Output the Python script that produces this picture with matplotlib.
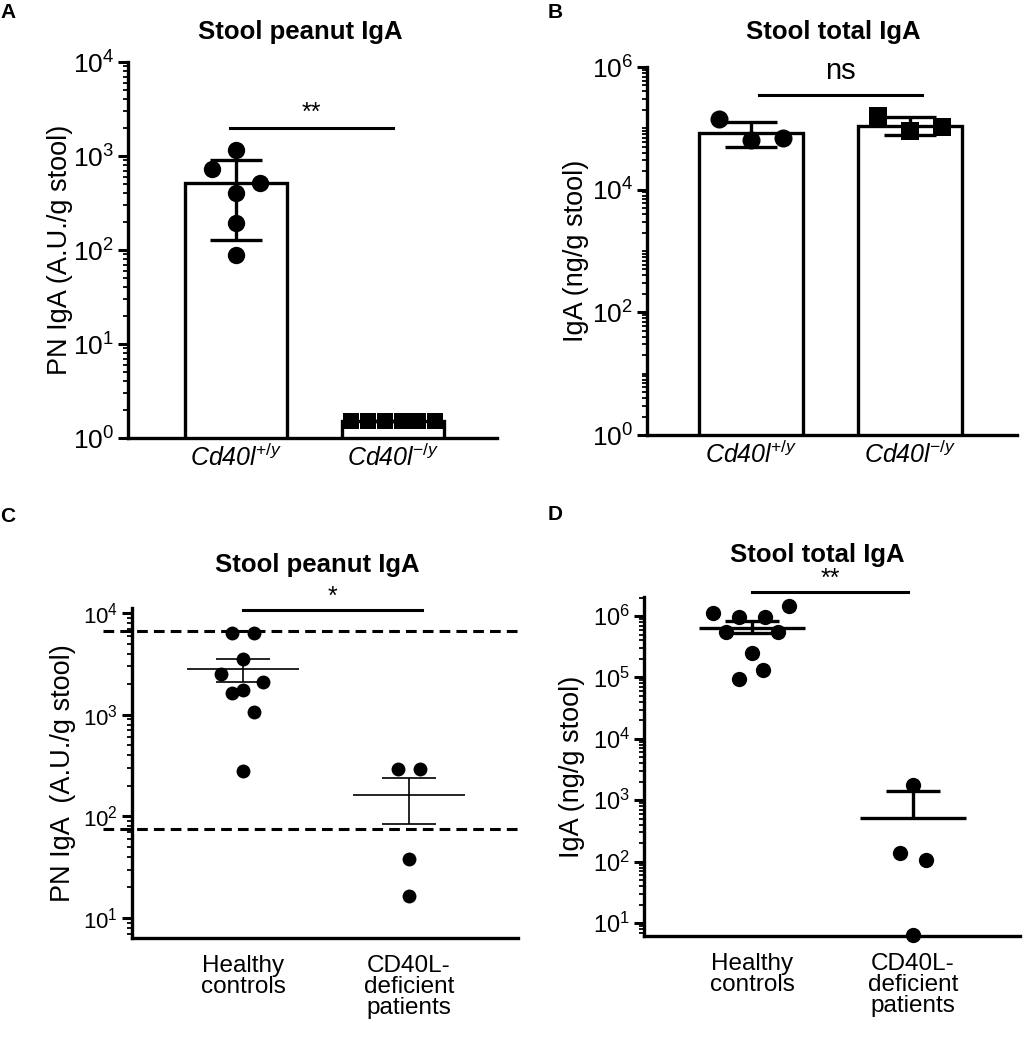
import matplotlib
matplotlib.use("Agg")
import matplotlib.pyplot as plt
from matplotlib.ticker import FixedLocator, LogLocator, LogFormatterSciNotation, NullFormatter
import numpy as np

plt.rcParams["font.family"] = ["Liberation Sans", "DejaVu Sans"]
plt.rcParams["mathtext.fontset"] = "custom"
plt.rcParams["mathtext.rm"] = "Liberation Sans"
plt.rcParams["mathtext.it"] = "Liberation Sans:italic"
plt.rcParams["mathtext.bf"] = "Liberation Sans:bold"

W, H = 1023, 1050

# ---- panel A: stool peanut IgA (mice) ----
mouse_labels = [r"Cd40l$^{\mathit{+/y}}$", r"Cd40l$^{\mathit{-/y}}$"]
a_wt = [1150, 730, 515, 405, 195, 89]
a_ko = [1.5, 1.5, 1.5, 1.5, 1.5, 1.5]
a_mean = [514, 1.5]
a_low = [128, 1.5]
a_high = [900, 1.5]

# ---- panel B: stool total IgA (mice) ----
b_wt = [142000, 65000, 70000]
b_ko = [160000, 90000, 105000]
b_mean = [85000, 110000]
b_low = [50000, 78000]
b_high = [127000, 155000]

# ---- panel C: stool peanut IgA (patients) ----
patient_labels = ["Healthy\ncontrols", "CD40L-\ndeficient\npatients"]
c_healthy = [6350, 6350, 3550, 2520, 2100, 1750, 1630, 1060, 280]
c_patients = [295, 295, 38, 16.5]
c_mean = [2830, 162]
c_low = [2100, 85]
c_high = [3550, 240]
c_limits = [6600, 76]

# ---- panel D: stool total IgA (patients) ----
d_healthy = [1.12e6, 9.6e5, 9.6e5, 1.45e6, 5.5e5, 5.5e5, 2.5e5, 1.3e5, 9.6e4]
d_patients = [1800, 140, 108, 6.3]
d_mean = [6.5e5, 510]
d_low = [5.3e5, 510]
d_high = [8.2e5, 1400]

# horizontal spread of the dots (layout only)
a_wt_dx = [0, -0.15, 0.15, 0, 0, 0]
a_ko_dx = [-0.27, -0.162, -0.054, 0.054, 0.162, 0.27]
b_dx = [-0.2, 0, 0.2]
c_healthy_dx = [-0.065, 0.065, 0, -0.13, 0.12, 0, -0.065, 0.065, 0]
c_patients_dx = [-0.065, 0.065, 0, 0]
d_healthy_dx = [-0.24, -0.08, 0.08, 0.23, -0.16, 0.16, 0, 0.07, -0.08]
d_patients_dx = [0, -0.08, 0.08, 0]


def fx(px):
    return px / W


def fy(py):
    return 1 - py / H


def make_axes(fig, left, right, top, bottom):
    return fig.add_axes([fx(left), fy(bottom), (right - left) / W, (bottom - top) / H])


def style(ax, majors, ylim, xlim, fs):
    ax.set_yscale("log")
    ax.set_ylim(*ylim)
    ax.set_xlim(*xlim)
    for s in ["top", "right"]:
        ax.spines[s].set_visible(False)
    for s in ["left", "bottom"]:
        ax.spines[s].set_linewidth(2.4)
    ax.yaxis.set_major_locator(FixedLocator(majors))
    ax.yaxis.set_major_formatter(LogFormatterSciNotation())
    ax.yaxis.set_minor_locator(LogLocator(base=10, subs=np.arange(1, 10), numticks=100))
    ax.yaxis.set_minor_formatter(NullFormatter())
    ax.tick_params(axis="y", which="major", length=7, width=2.2, labelsize=fs, pad=3)
    ax.tick_params(axis="y", which="minor", length=3.5, width=1.3)
    ax.tick_params(axis="x", length=0)


def sig_bar(ax, x0, x1, y, text, ty, fs):
    ax.plot([x0, x1], [y, y], color="black", lw=2.2, clip_on=False)
    ax.text((x0 + x1) / 2, ty, text, ha="center", va="center", fontsize=fs)


def bar_panel(ax, groups, means, lows, highs, markers, ms):
    x = np.arange(len(means))
    ax.bar(x, means, width=0.65, bottom=1e-3, color="white", edgecolor="black",
           linewidth=2.4, zorder=2)
    for i in range(len(means)):
        ax.vlines(x[i], lows[i], highs[i], color="black", lw=2.4, zorder=3)
        ax.hlines([lows[i], highs[i]], x[i] - 0.165, x[i] + 0.165, color="black", lw=2.4, zorder=3)
    for i, (vals, dx) in enumerate(groups):
        ax.scatter(x[i] + np.array(dx), vals, marker=markers[i], s=ms[i] ** 2,
                   color="black", zorder=4, clip_on=False, linewidths=0)


def dot_panel(ax, groups, means, lows, highs, ms, lw, mean_hw):
    x = np.arange(len(means))
    for i, (vals, dx) in enumerate(groups):
        ax.scatter(x[i] + np.array(dx), vals, marker="o", s=ms ** 2,
                   color="black", zorder=4, clip_on=False, linewidths=0)
    for i in range(len(means)):
        ax.hlines(means[i], x[i] - mean_hw, x[i] + mean_hw, color="black", lw=lw, zorder=3)
        ax.vlines(x[i], lows[i], highs[i], color="black", lw=lw, zorder=3)
        caps = [highs[i]] if lows[i] == means[i] else [lows[i], highs[i]]
        ax.hlines(caps, x[i] - 0.165, x[i] + 0.165, color="black", lw=lw, zorder=3)


def main():
    fig = plt.figure(figsize=(W / 100, H / 100), dpi=100)

    # A
    ax = make_axes(fig, 128, 497, 62, 438)
    style(ax, [1, 10, 100, 1000, 10000], (1, 1e4), (-0.688, 1.662), 19)
    bar_panel(ax, [(a_wt, a_wt_dx), (a_ko, a_ko_dx)], a_mean, a_low, a_high, ["o", "s"], [12.5, 11.5])
    ax.set_xticks([0, 1])
    ax.set_xticklabels(mouse_labels, fontsize=18, fontstyle="italic")
    ax.tick_params(axis="x", pad=4)
    ax.set_ylabel("PN IgA (A.U./g stool)", fontsize=19.5, labelpad=0)
    sig_bar(ax, -0.04, 1.0, 2000, "**", 2900, 18)

    # B
    ax = make_axes(fig, 647, 1017, 67, 435)
    style(ax, [1, 1e2, 1e4, 1e6], (1, 1e6), (-0.654, 1.673), 19)
    bar_panel(ax, [(b_wt, b_dx), (b_ko, b_dx)], b_mean, b_low, b_high, ["o", "s"], [13, 13])
    ax.set_xticks([0, 1])
    ax.set_xticklabels(mouse_labels, fontsize=18, fontstyle="italic")
    ax.tick_params(axis="x", pad=4)
    ax.set_ylabel("IgA (ng/g stool)", fontsize=19.5, labelpad=2)
    sig_bar(ax, 0.05, 1.075, 350000, "ns", 850000, 21)

    # C
    ax = make_axes(fig, 132, 518, 608, 938)
    style(ax, [10, 100, 1000, 10000], (10 ** 0.804, 10 ** 4.05), (-0.669, 1.657), 16)
    dot_panel(ax, [(c_healthy, c_healthy_dx), (c_patients, c_patients_dx)],
              c_mean, c_low, c_high, 10, 1.2, 0.335)
    for lim in c_limits:
        ax.axhline(lim, xmin=-0.075, xmax=1.0, color="black", lw=2.2,
                   ls=(0, (3.5, 2)), clip_on=False, zorder=2)
    ax.set_xticks([0, 1])
    ax.set_xticklabels(patient_labels, fontsize=17.5, linespacing=0.95)
    ax.tick_params(axis="x", pad=12)
    ax.set_ylabel("PN IgA  (A.U./g stool)", fontsize=19.5, labelpad=5)
    sig_bar(ax, 0.0, 1.08, 10700, "*", 14500, 18)

    # D
    ax = make_axes(fig, 644, 1020, 597, 936)
    style(ax, [10, 1e2, 1e3, 1e4, 1e5, 1e6], (10 ** 0.79, 10 ** 6.31), (-0.671, 1.665), 17)
    dot_panel(ax, [(d_healthy, d_healthy_dx), (d_patients, d_patients_dx)],
              d_mean, d_low, d_high, 11, 2.4, 0.33)
    ax.set_xticks([0, 1])
    ax.set_xticklabels(patient_labels, fontsize=17.5, linespacing=0.95)
    ax.tick_params(axis="x", pad=12)
    ax.set_ylabel("IgA (ng/g stool)", fontsize=19.5, labelpad=6)
    sig_bar(ax, 0.0, 0.97, 2.5e6, "**", 4.0e6, 18)

    # titles and panel letters
    fig.text(fx(300), fy(32), "Stool peanut IgA", ha="center", va="center", fontsize=18.5, fontweight="bold")
    fig.text(fx(833), fy(32), "Stool total IgA", ha="center", va="center", fontsize=18.5, fontweight="bold")
    fig.text(fx(317), fy(565), "Stool peanut IgA", ha="center", va="center", fontsize=18.5, fontweight="bold")
    fig.text(fx(817), fy(555), "Stool total IgA", ha="center", va="center", fontsize=18.5, fontweight="bold")
    for letter, px, py in [("A", 8, 12), ("B", 555, 12), ("C", 8, 516), ("D", 555, 515)]:
        fig.text(fx(px), fy(py), letter, ha="center", va="center", fontsize=15, fontweight="bold")

    fig.savefig("out.png", dpi=100)


if __name__ == "__main__":
    main()
